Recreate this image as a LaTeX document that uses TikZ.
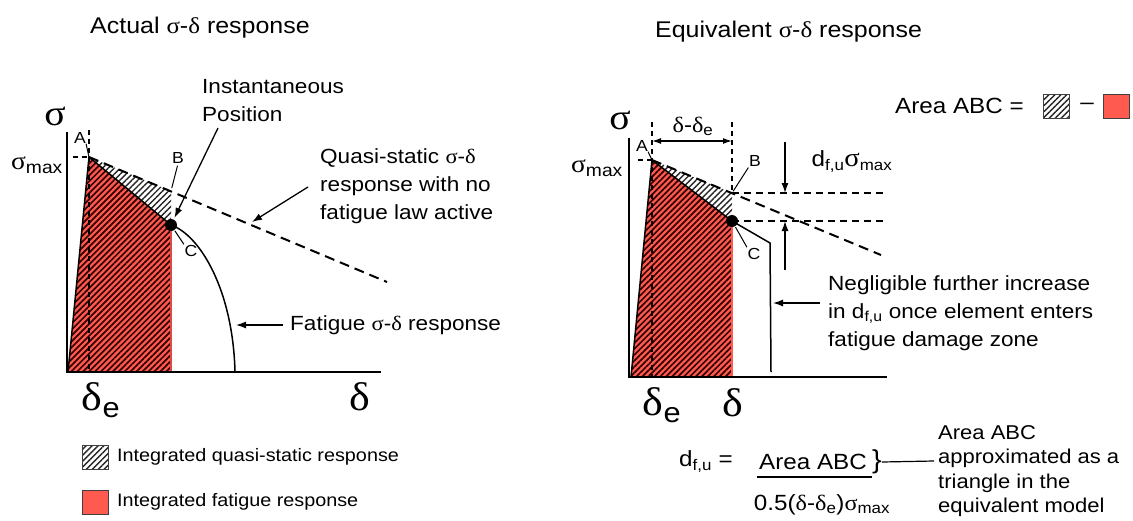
\documentclass[tikz,border=0pt]{standalone}
\usepackage{fontspec}
\setmainfont[FakeStretch=1.1]{Liberation Sans}
\newfontfamily\grk[FakeStretch=1.1]{Liberation Serif}
\usetikzlibrary{arrows.meta,patterns.meta}
\definecolor{fatred}{HTML}{FF5A50}
\newcommand{\gsig}{{\grk σ}}
\newcommand{\gdel}{{\grk δ}}

\begin{document}
\begin{tikzpicture}[x=1pt, y=-1pt,
  every node/.style={inner sep=0pt},
  lbl/.style={font=\fontsize{20.5}{28}\selectfont, align=left, anchor=west},
  head/.style={font=\fontsize{22.7}{27}\selectfont, anchor=base west},
  keytext/.style={font=\fontsize{18}{22}\selectfont, anchor=west},
  ptlbl/.style={font=\fontsize{16}{16}\selectfont},
  axlbl/.style={font=\fontsize{36}{36}\selectfont\grk},
  dlbl/.style={font=\fontsize{40}{40}\selectfont},
  smax/.style={font=\fontsize{25}{25}\selectfont},
  formula/.style={font=\fontsize{22}{26}\selectfont},
  axis/.style={line width=2.2pt},
  curve/.style={line width=1.5pt},
  qsline/.style={line width=2pt, dash pattern=on 10pt off 6pt},
  guide/.style={line width=1.2pt, dash pattern=on 5pt off 4pt},
  level/.style={line width=1.3pt, dash pattern=on 7pt off 5pt},
  leader/.style={line width=1pt},
  arr/.style={line width=1.3pt, -{Latex[length=10pt,width=7pt]}},
  dimarr/.style={line width=1.3pt, {Latex[length=9pt,width=6pt]}-{Latex[length=9pt,width=6pt]}},
  qszone/.style={pattern={Lines[angle=45,distance=4.2pt,line width=1.4pt]}, pattern color=black!85},
  fatzone/.style={preaction={fill=fatred}, pattern={Lines[angle=45,distance=4.2pt,line width=1.7pt]}, pattern color=black!80!red},
  keybox/.style={draw=black!75, line width=1pt, minimum width=26pt, minimum height=24pt},
  dot/.style={circle, fill=black, minimum size=12pt}]
  \useasboundingbox (0,0) rectangle (1133,520);

  % ---- actual response (left)
  \coordinate (O1) at (67,372);
  \coordinate (Y1) at (67,132);
  \coordinate (X1) at (381,372);
  \coordinate (S1) at (68,372);
  \coordinate (A1) at (89,157);
  \coordinate (B1) at (171,191);
  \coordinate (C1) at (171,225);
  \coordinate (Cb1) at (171,372);
  \coordinate (E1) at (387,282);
  \coordinate (F1) at (235,372);
  \coordinate (M1) at (73,157);
  \coordinate (Vt1) at (89,130);
  \coordinate (Vb1) at (89,372);

  \fill[fatzone] (S1) -- (A1) -- (C1) -- (Cb1) -- cycle;
  \fill[qszone] (A1) -- (B1) -- (C1) -- cycle;
  \draw[fatred!85!black, line width=1.2pt] (C1) -- (Cb1);
  \draw[guide] (M1) -- (A1);
  \draw[guide] (Vt1) -- (Vb1);
  \draw[axis] (Y1) -- (O1) -- (X1);
  \draw[curve] (S1) -- (A1) -- (C1) .. controls (200,235) and (233,290) .. (F1);
  \draw[qsline] (A1) -- (E1);
  \node[dot] (Cdot1) at (C1) {};

  \node[head] (head1) at (90,33) {Actual \gsig-\gdel{} response};
  \node[axlbl] (sig1) at (55,116) {σ};
  \node[smax] (smax1) at (37,165) {\gsig\textsubscript{max}};
  \node[dlbl] (de1) at (101,400) {\gdel\textsubscript{e}};
  \node[dlbl] (d1) at (360,397) {\gdel};
  \node[ptlbl] (Alab1) at (80,138) {A};
  \node[ptlbl] (Blab1) at (178,158) {B};
  \node[ptlbl] (Clab1) at (191,251) {C};
  \draw[leader] (Alab1.south east) -- (A1);
  \draw[leader, shorten <=3pt, shorten >=2pt] (B1) -- (Blab1.south);
  \draw[leader, shorten <=7pt, shorten >=1pt] (C1) -- (Clab1.north west);

  \node[lbl] (inst) at (202,101) {Instantaneous\\Position};
  \coordinate (instFoot) at (218,128);
  \draw[arr, shorten >=8pt] (instFoot) -- (C1);
  \node[lbl] (qs1) at (320,186) {Quasi-static \gsig-\gdel\\response with no\\fatigue law active};
  \coordinate (qsTail) at (308,187);
  \coordinate (qsTip) at (252,222);
  \draw[arr] (qsTail) -- (qsTip);
  \node[lbl] (fat1) at (290,325) {Fatigue \gsig-\gdel{} response};
  \coordinate (fatTip) at (236,325);
  \draw[arr] ([xshift=-7pt]fat1.west) -- (fatTip);

  % ---- legend
  \node[keybox, qszone] (qsKey) at (95,457) {};
  \node[keytext] (qsKeyTxt) at (117,457) {Integrated quasi-static response};
  \node[keybox, fill=fatred] (fatKey) at (95,502) {};
  \node[keytext] (fatKeyTxt) at (117,502) {Integrated fatigue response};

  % ---- equivalent response (right)
  \coordinate (O2) at (629,377);
  \coordinate (Y2) at (629,138);
  \coordinate (X2) at (887,377);
  \coordinate (S2) at (631,377);
  \coordinate (A2) at (652,160);
  \coordinate (B2) at (732,193);
  \coordinate (C2) at (732,221);
  \coordinate (Cb2) at (732,377);
  \coordinate (E2) at (881,255);
  \coordinate (K2) at (770,243);
  \coordinate (F2) at (771,372);
  \coordinate (M2) at (638,160);
  \coordinate (Vt2) at (652,122);
  \coordinate (Vb2) at (652,377);
  \coordinate (Wt2) at (732,122);
  \coordinate (Bh2) at (884,193);
  \coordinate (Ch2) at (884,221);
  \coordinate (dimL) at (652,141);
  \coordinate (dimR) at (732,141);
  \coordinate (downTail) at (785,142);
  \coordinate (downTip) at (785,193);
  \coordinate (upTail) at (785,270);
  \coordinate (upTip) at (785,221);

  \fill[fatzone] (S2) -- (A2) -- (C2) -- (Cb2) -- cycle;
  \fill[qszone] (A2) -- (B2) -- (C2) -- cycle;
  \draw[fatred, line width=1.2pt] (C2) -- (Cb2);
  \draw[guide] (M2) -- (A2);
  \draw[guide] (Vt2) -- (Vb2);
  \draw[guide] (Wt2) -- (B2);
  \draw[level] (B2) -- (Bh2);
  \draw[level] (C2) -- (Ch2);
  \draw[axis] (Y2) -- (O2) -- (X2);
  \draw[curve] (S2) -- (A2) -- (C2) -- (K2) -- (F2);
  \draw[qsline] (A2) -- (E2);
  \node[dot] (Cdot2) at (C2) {};
  \draw[dimarr] (dimL) -- (dimR);
  \draw[arr] (downTail) -- (downTip);
  \draw[arr] (upTail) -- (upTip);

  \node[head] (head2) at (655,37) {Equivalent \gsig-\gdel{} response};
  \node[axlbl] (sig2) at (620,120) {σ};
  \node[smax] (smax2) at (597,168) {\gsig\textsubscript{max}};
  \node[dlbl] (de2) at (662,405) {\gdel\textsubscript{e}};
  \node[dlbl] (d2) at (733,403) {\gdel};
  \node[font=\fontsize{22}{22}\selectfont] (dd2) at (693,126) {\gdel-\gdel\textsubscript{e}};
  \node[ptlbl] (Alab2) at (642,146) {A};
  \node[ptlbl] (Blab2) at (755,161) {B};
  \node[ptlbl] (Clab2) at (754,254) {C};
  \draw[leader] (Alab2.south east) -- (A2);
  \draw[leader, shorten <=2pt, shorten >=1pt] (B2) -- (Blab2.south west);
  \draw[leader, shorten <=7pt, shorten >=1pt] (C2) -- (Clab2.north west);
  \node[font=\fontsize{22}{22}\selectfont] (dfuLbl) at (852,162) {d\textsubscript{f,u}{\fontsize{26}{26}\selectfont\gsig}\textsubscript{max}};

  \node[lbl] (negl) at (828,313) {Negligible further increase\\in d\textsubscript{f,u} once element enters\\fatigue damage zone};
  \coordinate (neglTip) at (773,303);
  \coordinate (neglTail) at (820,303);
  \draw[arr] (neglTail) -- (neglTip);

  % ---- area key
  \node[lbl, font=\fontsize{22}{26}\selectfont] (areaEq) at (895,106) {Area ABC =};
  \node[keybox, qszone] (qsKey2) at (1056,106) {};
  \node[font=\fontsize{22}{26}\selectfont] (minus) at (1087,106) {--};
  \node[keybox, fill=fatred] (fatKey2) at (1116,106) {};

  % ---- formula
  \node[formula, anchor=east] (dfu) at (733,462) {d\textsubscript{f,u} =};
  \node[formula] (num) at (813,462) {Area ABC};
  \coordinate (fracL) at (757,477);
  \coordinate (fracR) at (872,477);
  \draw[line width=1.3pt] (fracL) -- (fracR);
  \node[formula] (den) at (822,505) {0.5(\gdel-\gdel\textsubscript{e})\gsig\textsubscript{max}};
  \node[font=\fontsize{26}{26}\selectfont] (brace) at (877,462) {\}};
  \coordinate (noteTail) at (934,461);
  \draw[line width=1.2pt] (brace.east) -- (noteTail);
  \node[lbl, font=\fontsize{20}{24.5}\selectfont] (note) at (938,471) {Area ABC\\approximated as a\\triangle in the\\equivalent model};
\end{tikzpicture}
\end{document}
